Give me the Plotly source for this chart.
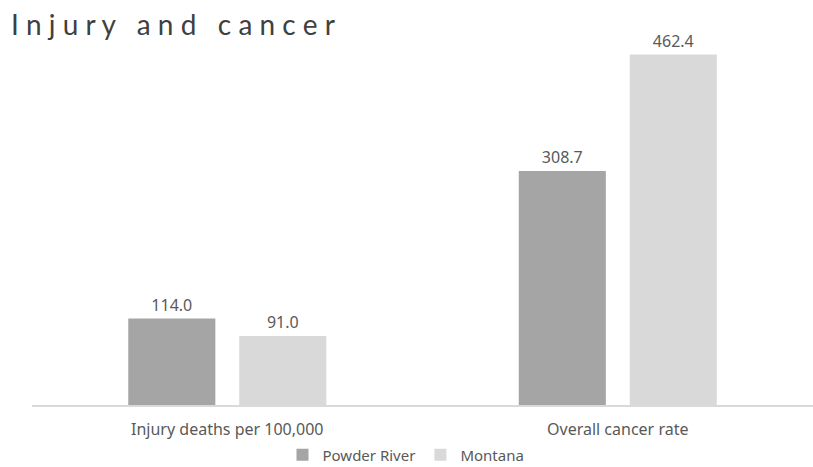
import plotly.graph_objects as go

categories = ["Injury deaths per 100,000", "Overall cancer rate"]
powder_river = [114.0, 308.7]
montana = [91.0, 462.4]
series_names = ["Powder River", "Montana"]
title_text = "Injury and cancer"

def spaced(s):
    words = s.split(" ")
    return "\u00a0\u00a0\u00a0".join("\u00a0".join(list(w)) for w in words)

FONT = "Noto Sans"

fig = go.Figure()
fig.add_trace(go.Bar(
    x=categories, y=powder_river, name=series_names[0],
    marker=dict(color="#A5A5A5", line=dict(width=0)),
    width=0.223, offset=-0.2535,
    text=[f"{v:.1f}" for v in powder_river], textposition="outside",
    textfont=dict(size=16, color="#595959", family=FONT),
    cliponaxis=False,
))
fig.add_trace(go.Bar(
    x=categories, y=montana, name=series_names[1],
    marker=dict(color="#D9D9D9", line=dict(width=0)),
    width=0.223, offset=0.0307,
    text=[f"{v:.1f}" for v in montana], textposition="outside",
    textfont=dict(size=16, color="#595959", family=FONT),
    cliponaxis=False,
))

fig.update_layout(
    width=813, height=467,
    margin=dict(l=32, r=0, t=26, b=62, autoexpand=False),
    paper_bgcolor="white", plot_bgcolor="white",
    barmode="overlay",
    font=dict(family=FONT, color="#595959", size=16),
    title=dict(text=spaced(title_text), x=11/813, xanchor="left", xref="container",
               y=1 - 25/467, yanchor="middle", yref="container",
               font=dict(size=28, color="#404040", family="Lato")),
    xaxis=dict(showgrid=False, showline=True, linecolor="#D9D9D9", linewidth=1.5,
               ticks="", ticklabelstandoff=9, tickfont=dict(size=16, color="#595959")),
    yaxis=dict(range=[0, 500], visible=False, showgrid=False, zeroline=False),
    legend=dict(orientation="h", x=406/813, xanchor="center", xref="container",
                y=(467-455)/467, yanchor="middle", yref="container",
                font=dict(size=15, color="#595959"), itemwidth=30,
                traceorder="normal"),
    showlegend=True,
)

fig.write_html("out.html", config={"displayModeBar": False},
               post_script="document.body.style.margin='0';")
